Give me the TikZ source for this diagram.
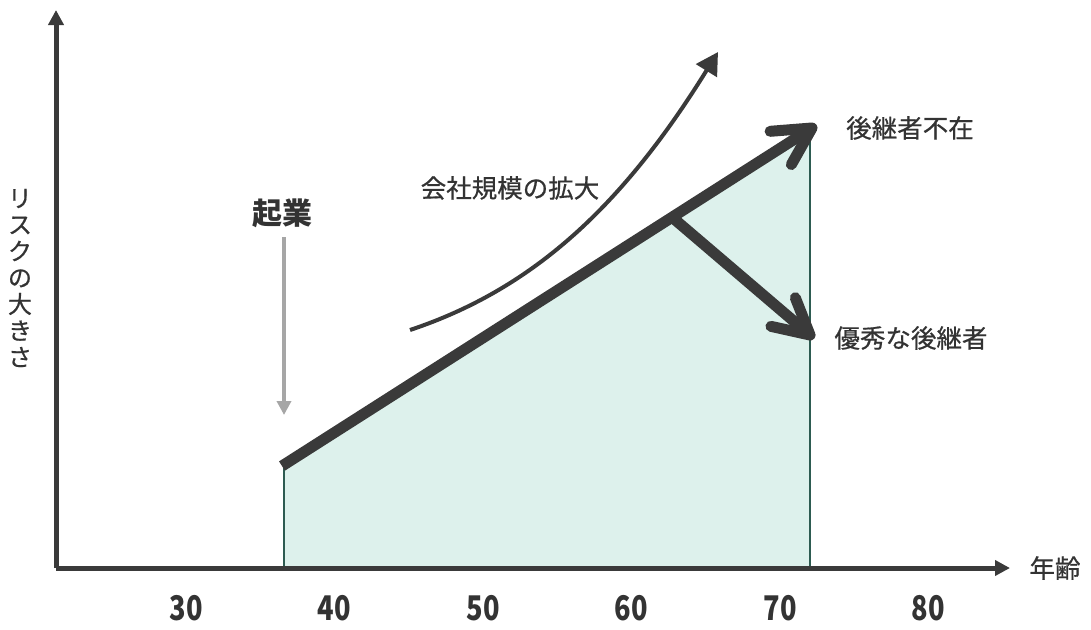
\documentclass[tikz,border=0pt]{standalone}
\usepackage{fontspec}
\newfontfamily\jp{Noto Sans CJK JP}
\newfontfamily\jpm{Noto Sans CJK JP}[FakeBold=0.6]
\usetikzlibrary{arrows.meta,calc}
\definecolor{dk}{HTML}{3A3A3A}
\definecolor{txt}{HTML}{333333}
\definecolor{mint}{HTML}{DDF1EC}
\definecolor{edgecol}{HTML}{2D5B51}
\definecolor{gr}{HTML}{A6A6A6}
\tikzset{
  axisline/.style={draw=dk, line width=5pt, -{Triangle[length=15pt,width=15pt]}},
  thickarrow/.style={draw=dk, line width=11pt},
  barbline/.style={draw=dk, line width=11pt, line cap=round, line join=round},
  lbl/.style={font=\jpm\fontsize{25.5}{30}\selectfont, text=txt, inner sep=0pt},
  ticklbl/.style={font=\jp\bfseries\fontsize{34}{40}\selectfont, text=txt, inner sep=0pt},
  growcurve/.style={draw=dk, line width=4pt, -{Triangle[length=22pt,width=24pt]}},
  startarrow/.style={draw=gr, line width=4pt, -{Triangle[length=14pt,width=14pt]}},
  areaedge/.style={draw=edgecol, line width=2pt}
}
\begin{document}
\begin{tikzpicture}[x=1pt,y=-1pt]
\useasboundingbox (0,0) rectangle (1091,629);
% key points
\coordinate (o) at (56,568);
\coordinate (ytip) at (56,10);
\coordinate (xtip) at (1010,568);
\coordinate (s1) at (282,466);
\coordinate (b1) at (673,218);
\coordinate (t1) at (812,128);
\coordinate (t2) at (810,335);
\coordinate (aL) at (284,568);
\coordinate (aLt) at (284,466);
\coordinate (aR) at (810,568);
\coordinate (aRt) at (810,133);
% shaded area
\fill[mint] (aL) -- (aLt) -- (aRt) -- (aR) -- cycle;
\draw[areaedge] (aL) -- (aLt);
\draw[areaedge] (aR) -- (aRt);
% axes
\draw[axisline] (o) -- (ytip);
\draw[axisline] (o) -- (xtip);
% labels
\node[lbl] (age) at (1055,568) {年齢};
\node[lbl, align=center, font=\jpm\fontsize{24}{26.5}\selectfont] (risk) at (20,278) {リ\\ス\\ク\\の\\大\\き\\さ};
\foreach \v/\x in {30/186,40/334,50/483,60/631,70/780,80/928}
  \node[ticklbl] (t\v) at (\x,608) {\scalebox{0.8}[1]{\v}};
% start arrow
\node[lbl, font=\jp\bfseries\fontsize{30}{36}\selectfont] (kigyo) at (282,213) {起業};
\coordinate (g1) at (284,237);
\coordinate (g2) at (284,415);
\draw[startarrow] (g1) -- (g2);
% growth curve
\coordinate (c0) at (410,330);
\coordinate (c1) at (718,52);
\draw[growcurve] (c0) .. controls (530,290) and (620,210) .. (c1);
\node[lbl] (scale) at (510,188) {会社規模の拡大};
% main thick arrow
\draw[thickarrow] (s1) -- (t1);
\draw[barbline] ($(t1)!42pt!28:(s1)$) -- (t1) -- ($(t1)!42pt!-28:(s1)$);
% branch arrow
\draw[barbline] (b1) -- (t2);
\draw[barbline] ($(t2)!40pt!28:(b1)$) -- (t2) -- ($(t2)!40pt!-28:(b1)$);
\node[lbl] (absent) at (910,128) {後継者不在};
\node[lbl] (good) at (911,338) {優秀な後継者};
\end{tikzpicture}
\end{document}
